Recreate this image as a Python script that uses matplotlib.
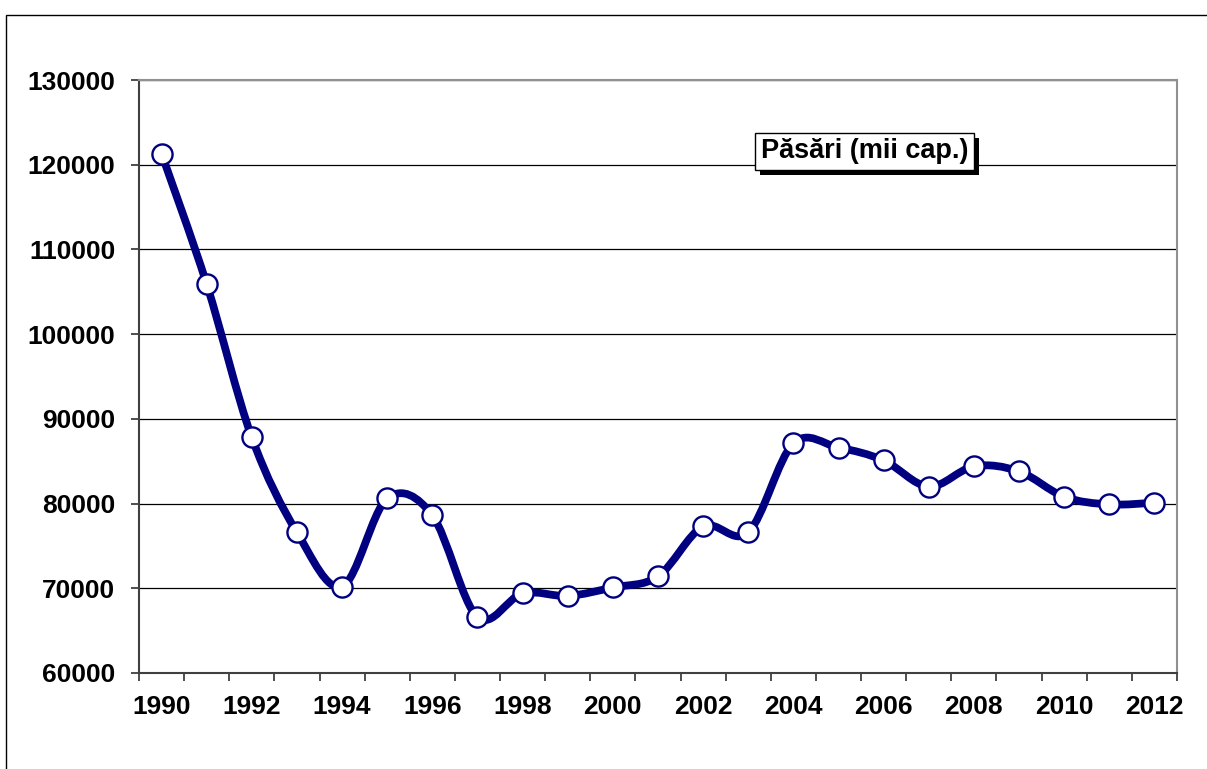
import matplotlib
matplotlib.use("Agg")
import matplotlib.pyplot as plt
from matplotlib.path import Path
from matplotlib.patches import PathPatch, Rectangle
import matplotlib.patheffects as pe

plt.rcParams['font.family'] = ['Liberation Sans', 'DejaVu Sans']
plt.rcParams['font.weight'] = 'bold'

years = list(range(1990, 2013))
pasari = [121300, 105900, 87800, 76600, 70200, 80600, 78600, 66600, 69400,
          69100, 70100, 71400, 77300, 76600, 87100, 86600, 85100, 82000,
          84400, 83800, 80800, 79900, 80100]
y_ticks = [60000, 70000, 80000, 90000, 100000, 110000, 120000, 130000]
series_label = "Păsări (mii cap.)"

navy = "#000080"

fig = plt.figure(figsize=(12.07, 7.69), dpi=100)
ax = fig.add_axes([139 / 1207, 1 - 673 / 769, 1038 / 1207, 593 / 769])

# outer chart border (only top and left visible)
fig.patches.append(Rectangle((6 / 1207, -0.2), 1.5, 0.2 + 1 - 15 / 769,
                             transform=fig.transFigure, fill=False,
                             edgecolor="black", linewidth=1.0))

xs = list(range(len(years)))

# smoothed line through the points (cubic bezier, catmull-rom style)
n = len(xs)
verts = [(xs[0], pasari[0])]
codes = [Path.MOVETO]
for i in range(n - 1):
    i0 = max(i - 1, 0)
    i3 = min(i + 2, n - 1)
    c1 = (xs[i] + (xs[i + 1] - xs[i0]) / 6, pasari[i] + (pasari[i + 1] - pasari[i0]) / 6)
    c2 = (xs[i + 1] - (xs[i3] - xs[i]) / 6, pasari[i + 1] - (pasari[i3] - pasari[i]) / 6)
    verts += [c1, c2, (xs[i + 1], pasari[i + 1])]
    codes += [Path.CURVE4] * 3
ax.add_patch(PathPatch(Path(verts, codes), fill=False, edgecolor=navy,
                       linewidth=5.6, capstyle="round", joinstyle="round", zorder=3))

ax.plot(xs, pasari, linestyle="none", marker="o", markersize=14.5,
        markerfacecolor="white", markeredgecolor=navy, markeredgewidth=1.7, zorder=4)

ax.set_xlim(-0.5, n - 0.5)
ax.set_ylim(60000, 130000)

ax.set_yticks(y_ticks)
ax.set_yticklabels([str(v) for v in y_ticks])
ax.yaxis.grid(True, color="black", linewidth=0.9)
ax.set_axisbelow(True)

# ticks on category boundaries, labels on every other category
ax.set_xticks([k - 0.5 for k in range(n + 1)])
ax.set_xticklabels([])
ax.set_xticks(xs[::2], minor=True)
ax.set_xticklabels([str(y) for y in years[::2]], minor=True)
ax.tick_params(axis="x", which="major", direction="out", length=6, width=1.3, color="#404040")
ax.tick_params(axis="x", which="minor", length=0, pad=16, labelsize=19)
ax.tick_params(axis="y", direction="out", length=6, width=1.3, color="#404040",
               pad=11, labelsize=19)

for side in ("left", "bottom"):
    ax.spines[side].set_color("#404040")
    ax.spines[side].set_linewidth(1.5)
for side in ("right", "top"):
    ax.spines[side].set_color("#909090")
    ax.spines[side].set_linewidth(1.5)

t = ax.text(0.699, 0.880, series_label, transform=ax.transAxes, fontsize=19.5,
            fontweight="bold", ha="center", va="center", zorder=6,
            bbox=dict(boxstyle="square,pad=0.2", facecolor="white",
                      edgecolor="black", linewidth=1.0))
t.get_bbox_patch().set_path_effects([
    pe.SimplePatchShadow(offset=(3.6, -3.6), shadow_rgbFace="black", alpha=1.0),
    pe.Normal()])

fig.savefig("out.png", dpi=100)
